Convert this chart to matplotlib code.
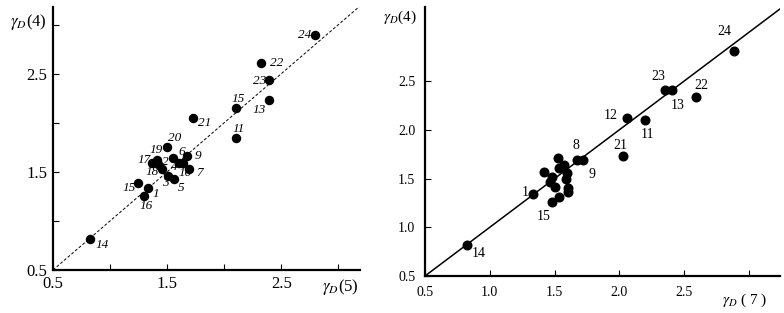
import matplotlib
matplotlib.use("Agg")
import matplotlib.pyplot as plt

plt.rcParams['font.family'] = ['Liberation Serif', 'DejaVu Serif']
plt.rcParams['mathtext.fontset'] = 'stix'

# ---- Left panel data: gamma_D(5) vs gamma_D(4)
left_labels = ["14", "16", "1", "15", "3", "5", "18", "17", "19", "2", "20", "6",
               "9", "4", "10", "7", "21", "11", "15", "13", "23", "22", "24"]
left_x = [0.825, 1.30, 1.335, 1.245, 1.51, 1.56, 1.455, 1.37, 1.41, 1.42, 1.50, 1.553,
          1.675, 1.60, 1.64, 1.69, 1.728, 2.10, 2.105, 2.395, 2.395, 2.325, 2.80]
left_y = [0.816, 1.255, 1.337, 1.388, 1.46, 1.43, 1.53, 1.59, 1.62, 1.585, 1.755, 1.643,
          1.665, 1.59, 1.59, 1.53, 2.05, 1.85, 2.153, 2.235, 2.44, 2.61, 2.89]
# label offsets (pixels: left edge dx, vertical-centre dy)
left_offsets = [(5, -6), (-5, -10), (4, -6), (-15, -5), (-6, -7), (4, -9), (-16, -3),
                (-15, 3), (-7, 10), (4, 2), (1, 9), (5, 6), (8, 0), (-8, -4),
                (-5, -10), (7, -4), (5, -5), (-3, 9), (-5, 9), (-17, -10), (-16, -1),
                (9, 0), (-17, 0)]

# ---- Right panel data: gamma_D(7) vs gamma_D(4)
right_labels = ["14", "1", "15", "8", "9", "21", "12", "11", "23", "13", "22", "24"]
right_x = [0.824, 1.334, 1.48, 1.674, 1.72, 2.03, 2.06, 2.20, 2.35, 2.41, 2.59, 2.886]
right_y = [0.818, 1.34, 1.26, 1.69, 1.69, 1.73, 2.12, 2.10, 2.41, 2.41, 2.34, 2.81]
right_offsets = [(5, -8), (-11, 2), (-15, -15), (-5, 15), (5, -14), (-10, 11), (-23, 3),
                 (-5, -14), (-13, 13), (-2, -16), (-1, 11), (-17, 19)]
right_cluster_x = [1.42, 1.48, 1.465, 1.53, 1.537, 1.575, 1.50, 1.597, 1.59, 1.606,
                   1.606, 1.535]
right_cluster_y = [1.567, 1.515, 1.46, 1.71, 1.61, 1.64, 1.41, 1.556, 1.495, 1.40,
                   1.36, 1.31]

PX = 0.72  # points per pixel at dpi 100

fig = plt.figure(figsize=(7.84, 3.13), dpi=100)
axL = fig.add_axes([53/784, 1-270/313, 307/784, 263/313])
axR = fig.add_axes([425/784, 1-276/313, 355/784, 269/313])

for ax in (axL, axR):
    for s in ("top", "right"):
        ax.spines[s].set_visible(False)
    for s in ("left", "bottom"):
        ax.spines[s].set_linewidth(1.6)
    ax.tick_params(direction="in", length=4, width=0.8)

# Left
axL.set_xlim(0.5, 3.19)
axL.set_ylim(0.5, 3.18)
axL.plot([0.5, 3.19], [0.5, 3.19], ls=(0, (3, 2)), color="black", lw=0.7)
axL.plot(left_x, left_y, "o", color="black", ms=5.8, zorder=3)
for lab, x, y, off in zip(left_labels, left_x, left_y, left_offsets):
    axL.annotate(lab, (x, y), xytext=(off[0]*PX, off[1]*PX), textcoords="offset points",
                 fontsize=9.5, style="italic", va="center", ha="left")
axL.set_xticks([0.5, 1.0, 1.5, 2.0, 2.5, 3.0])
axL.set_xticklabels(["0.5", "", "1.5", "", "2.5", ""], fontsize=12)
axL.set_yticks([0.5, 1.0, 1.5, 2.0, 2.5, 3.0])
axL.set_yticklabels(["0.5", "", "1.5", "", "2.5", ""], fontsize=12)
axL.tick_params(axis="x", pad=4)
axL.tick_params(axis="y", pad=4)
fig.text(10/784, 1-22/313, r"$\gamma_D$(4)", fontsize=12, va="center", ha="left")
fig.text(322/784, 1-287/313, r"$\gamma_D$(5)", fontsize=12, va="center", ha="left")

# Right
axR.set_xlim(0.5, 3.24)
axR.set_ylim(0.5, 3.26)
axR.plot([0.5, 3.24], [0.5, 3.24], ls="-", color="black", lw=1.1)
axR.plot(right_x, right_y, "o", color="black", ms=6.2, zorder=3)
axR.plot(right_cluster_x, right_cluster_y, "o", color="black", ms=6.2, zorder=3)
for lab, x, y, off in zip(right_labels, right_x, right_y, right_offsets):
    axR.annotate(lab, (x, y), xytext=(off[0]*PX, off[1]*PX), textcoords="offset points",
                 fontsize=10, va="center", ha="left")
axR.set_xticks([0.5, 1.0, 1.5, 2.0, 2.5, 3.0])
axR.set_xticklabels(["0.5", "1.0", "1.5", "2.0", "2.5", ""], fontsize=10)
axR.set_yticks([0.5, 1.0, 1.5, 2.0, 2.5])
axR.set_yticklabels(["0.5", "1.0", "1.5", "2.0", "2.5"], fontsize=10)
axR.tick_params(axis="x", pad=7)
axR.tick_params(axis="y", pad=7)
fig.text(383/784, 1-17/313, r"$\gamma_D$(4)", fontsize=11, va="center", ha="left")
fig.text(722/784, 1-300/313, r"$\gamma_D$ ( 7 )", fontsize=11, va="center", ha="left")

fig.savefig("out.png", dpi=100)
